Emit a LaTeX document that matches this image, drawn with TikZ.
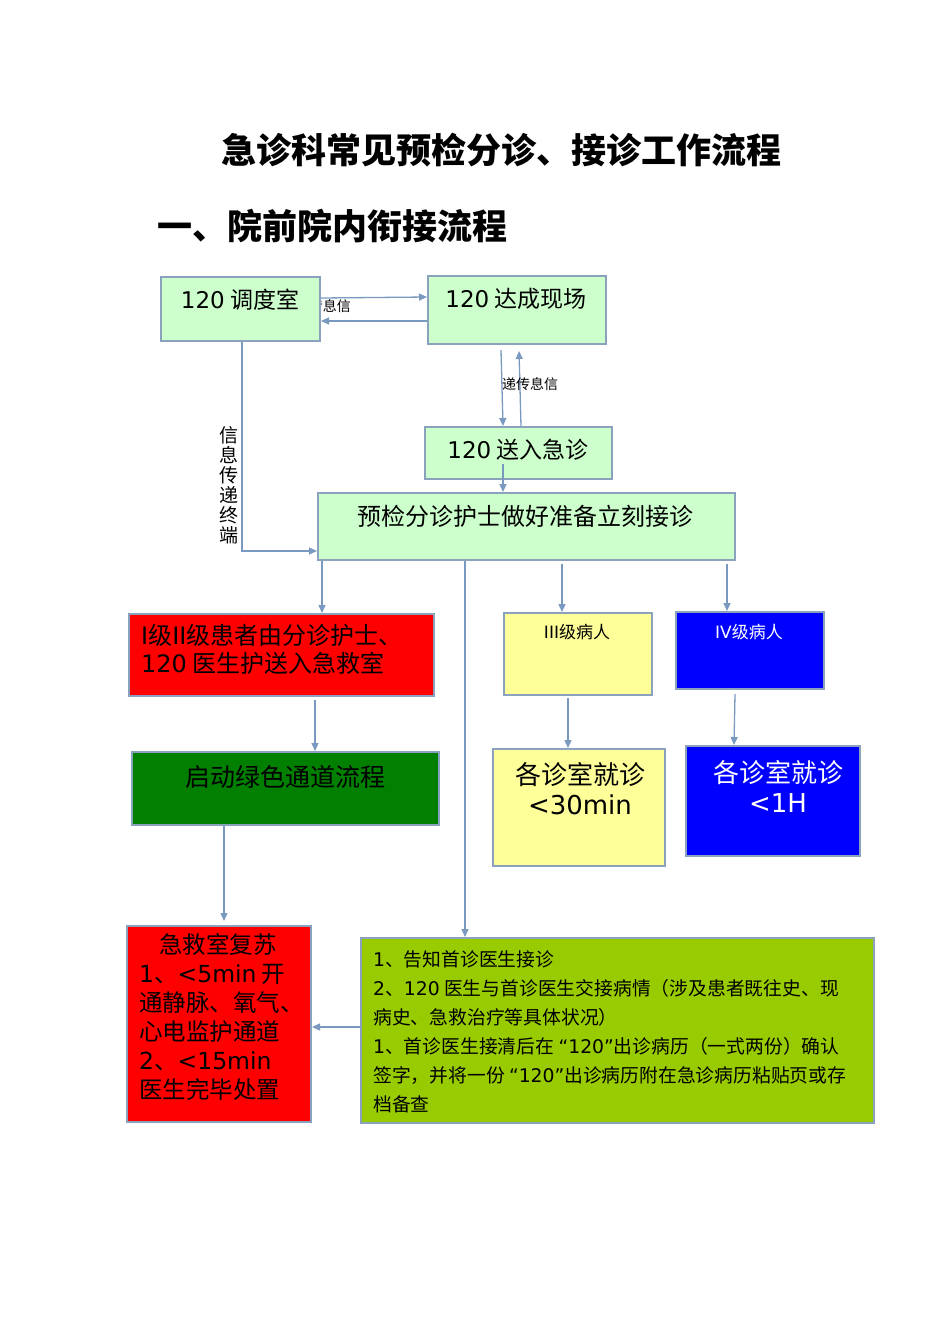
\documentclass[tikz,border=0pt]{standalone}
\usepackage{fontspec}
\setmainfont{Noto Sans CJK SC}
\newfontfamily\dvs{DejaVu Sans}
\newcommand\lt[1]{{\dvs #1}}
\newcommand\fsz[2]{\fontsize{#1}{#2}\selectfont}
\usetikzlibrary{arrows.meta}
\definecolor{lgreen}{HTML}{CCFFCC}
\definecolor{bred}{HTML}{FF0000}
\definecolor{lyellow}{HTML}{FFFF99}
\definecolor{bblue}{HTML}{0000FF}
\definecolor{dgreen}{HTML}{007F00}
\definecolor{ygreen}{HTML}{99CC00}
\definecolor{bordc}{RGB}{138,162,190}
\definecolor{linec}{RGB}{122,153,192}
\tikzset{
  box/.style={draw=bordc, line width=2pt, anchor=north west, inner sep=0pt},
  arr/.style={draw=linec, line width=1.3pt, -{Triangle[length=8pt,width=7pt]}},
  ln/.style={draw=linec, line width=1.3pt},
  txt/.style={inner sep=0pt, text=black},
}
\begin{document}
\begin{tikzpicture}[x=1pt,y=-1pt]
\useasboundingbox (0,0) rectangle (950,1344);
\fill[white] (0,0) rectangle (950,1344);

% titles
\node[txt, font=\fsz{35}{40}\bfseries] (title) at (501,150) {急诊科常见预检分诊、接诊工作流程};
\node[txt, font=\fsz{35}{40}\bfseries, anchor=west] (sub) at (157,226) {一、院前院内衔接流程};

% label partly hidden under box A
\node[txt, font=\fsz{14}{16}, anchor=east] (lab1) at (351,306) {递传息信};

% boxes
\node[box, fill=lgreen, minimum width=159, minimum height=64] (A) at (160,276) {};
\node[box, fill=lgreen, minimum width=178, minimum height=68] (B) at (427,275) {};
\node[box, fill=lgreen, minimum width=187, minimum height=52] (C) at (424,426) {};
\node[box, fill=lgreen, minimum width=417, minimum height=67] (D) at (317,492) {};
\node[box, fill=bred, minimum width=305, minimum height=82] (E) at (128,613) {};
\node[box, fill=lyellow, minimum width=148, minimum height=82] (F) at (503,612) {};
\node[box, fill=bblue, minimum width=148, minimum height=77] (G) at (675,611) {};
\node[box, fill=dgreen, minimum width=307, minimum height=73] (H) at (131,751) {};
\node[box, fill=lyellow, minimum width=172, minimum height=117] (I) at (492,748) {};
\node[box, fill=bblue, minimum width=174, minimum height=110] (J) at (685,745) {};
\node[box, fill=bred, minimum width=184, minimum height=196] (K) at (126,925) {};
\node[box, fill=ygreen, minimum width=513, minimum height=185] (L) at (360,937) {};

% box texts
\node[txt, font=\fsz{23}{27}] (At) at (240,300) {\lt{120} 调度室};
\node[txt, font=\fsz{23}{27}] (Bt) at (516,299) {\lt{120} 达成现场};
\node[txt, font=\fsz{23}{27}] (Ct) at (518,450) {\lt{120} 送入急诊};
\node[txt, font=\fsz{24}{28}] (Dt) at (525,516) {预检分诊护士做好准备立刻接诊};
\node[txt, font=\fsz{24}{28}, anchor=west, align=left] (Et) at (141,649) {\lt{I}级\lt{II}级患者由分诊护士、\\\lt{120} 医生护送入急救室};
\node[txt, font=\fsz{17}{20}] (Ft) at (577,632) {\lt{III}级病人};
\node[txt, font=\fsz{17}{20}, text=white] (Gt) at (749,632) {\lt{IV}级病人};
\node[txt, font=\fsz{25}{29}] (Ht) at (285,777) {启动绿色通道流程};
\node[txt, font=\fsz{26}{30}, align=center] (It) at (580,789) {各诊室就诊\\\lt{<30min}};
\node[txt, font=\fsz{26}{30}, align=center, text=white] (Jt) at (778,786) {各诊室就诊\\\lt{<1H}};
\node[txt, font=\fsz{23.5}{29}, anchor=north west, align=left] (Kt) at (139,933) {\hspace*{20pt}急救室复苏\\\lt{1}、\lt{<5min} 开\\通静脉、氧气、\\心电监护通道\\\lt{2}、\lt{<15min}\\医生完毕处置};
\node[txt, font=\fsz{18.8}{29}, anchor=north west, align=left] (Lt) at (373,950) {\lt{1}、告知首诊医生接诊\\\lt{2}、\lt{120} 医生与首诊医生交接病情（涉及患者既往史、现\\病史、急救治疗等具体状况）\\\lt{1}、首诊医生接清后在 \lt{“120”}出诊病历（一式两份）确认\\签字，并将一份 \lt{“120”}出诊病历附在急诊病历粘贴页或存\\档备查};

% connectors
\draw[arr] (A.east |- 0,298) -- (B.west |- 0,297);
\draw[arr] (B.west |- 0,321) -- (A.east |- 0,321);
\draw[arr] ([yshift=-5pt]B.south -| 501,0) -- (C.north -| 503,0);
\draw[arr] (C.north -| 521,0) -- ([yshift=-6pt]B.south -| 519,0);
\node[txt, font=\fsz{14}{16}] (lab2) at (530,384) {递传息信};
\draw[arr] (C.south -| 503,0) ++(0,-16) -- (D.north -| 503,0);
\draw[arr] (A.south -| 242,0) |- (D.west |- 0,551);
\node[txt, font=\fsz{19}{20}, align=center] (lab3) at (229,485) {信\\息\\传\\递\\终\\端};
\draw[arr] (D.south -| 322,0) -- (E.north -| 322,0);
\draw[arr] (D.south -| 465,0) -- (L.north -| 465,0);
\draw[arr] ([yshift=-3pt]D.south -| 562,0) -- (F.north -| 562,0);
\draw[arr] ([yshift=-3pt]D.south -| 727,0) -- (G.north -| 727,0);
\draw[arr] ([yshift=-3pt]E.south -| 315,0) -- (H.north -| 315,0);
\draw[arr] ([yshift=-2pt]F.south -| 568,0) -- (I.north -| 568,0);
\draw[arr] ([yshift=-4pt]G.south -| 735,0) -- (J.north -| 734,0);
\draw[arr] (H.south -| 224,0) -- ([yshift=4pt]K.north -| 224,0);
\draw[arr] (L.west |- 0,1027) -- (K.east |- 0,1027);
\end{tikzpicture}
\end{document}
